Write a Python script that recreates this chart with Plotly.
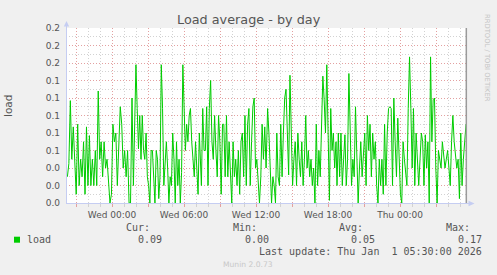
import plotly.graph_objects as go
import pandas as pd

seg_a_start, seg_a_end = "2025-12-30 20:17", "2025-12-31 01:40"
seg_a = [0.03, 0.045, 0.117, 0.05, 0.087, 0.04, 0.01, 0.09, 0.02, 0.05, 0.03, 0.07, 0.01,
         0.087, 0.02, 0.077, 0.02, 0.05, 0.02, 0.06, 0.02, 0.128, 0.05, 0.07, 0.03, 0.07,
         0.04, 0.05, 0.02, 0.0, 0.01, 0.09, 0.07, 0.08, 0.02, 0.078, 0.11, 0.09, 0.04, 0.06,
         0.03, 0.06, 0.0, 0.0, 0.12]
seg_b_start, seg_b_end = "2025-12-31 01:47", "2025-12-31 07:23"
seg_b = [0.02, 0.09, 0.158, 0.108, 0.062, 0.1, 0.05, 0.1, 0.06, 0.05, 0.08, 0.03, 0.02, 0.0,
         0.06, 0.06, 0.02, 0.0, 0.06, 0.05, 0.005, 0.03, 0.158, 0.108, 0.02, 0.05, 0.07, 0.04,
         0.0, 0.03, 0.02, 0.08, 0.05, 0.0, 0.07, 0.02, 0.05, 0.0, 0.035, 0.158, 0.108, 0.06,
         0.09, 0.07, 0.1, 0.108, 0.07, 0.05, 0.03, 0.07, 0.04, 0.01, 0.08, 0.03]
seg_c_start, seg_c_end = "2025-12-31 07:27", "2025-12-31 12:57"
seg_c = [0.02, 0.108, 0.06, 0.06, 0.11, 0.02, 0.108, 0.14, 0.07, 0.05, 0.1, 0.06, 0.03, 0.1,
         0.07, 0.01, 0.09, 0.09, 0.03, 0.1, 0.03, 0.07, 0.035, 0.0, 0.07, 0.03, 0.05, 0.02,
         0.06, 0.01, 0.07, 0.08, 0.03, 0.1, 0.02, 0.09, 0.108, 0.02, 0.07, 0.11, 0.12, 0.04,
         0.05, 0.03, 0.0, 0.03, 0.09, 0.05, 0.087, 0.04, 0.108]
seg_d_start, seg_d_end = "2025-12-31 12:58", "2025-12-31 18:40"
seg_d = [0.108, 0.08, 0.03, 0.0, 0.03, 0.02, 0.0, 0.08, 0.03, 0.02, 0.09, 0.03, 0.08, 0.12,
         0.13, 0.09, 0.032, 0.146, 0.07, 0.02, 0.05, 0.07, 0.02, 0.08, 0.05, 0.03, 0.07, 0.02,
         0.05, 0.1, 0.04, 0.06, 0.03, 0.05, 0.02, 0.04, 0.0, 0.09, 0.02, 0.06, 0.03, 0.1,
         0.145, 0.118, 0.08, 0.158, 0.09, 0.003, 0.108, 0.06, 0.08, 0.04, 0.07]
seg_e_start, seg_e_end = "2025-12-31 18:45", "2026-01-01 00:22"
seg_e = [0.02, 0.08, 0.03, 0.08, 0.02, 0.05, 0.078, 0.02, 0.05, 0.148, 0.09, 0.02, 0.05, 0.03,
         0.11, 0.04, 0.0, 0.04, 0.07, 0.03, 0.05, 0.08, 0.02, 0.1, 0.06, 0.09, 0.03, 0.08,
         0.05, 0.07, 0.02, 0.0, 0.05, 0.02, 0.05, 0.01, 0.09, 0.02, 0.08, 0.108, 0.11, 0.108,
         0.02, 0.12, 0.07, 0.03, 0.097, 0.04, 0.01, 0.0, 0.07, 0.05]
seg_f_start, seg_f_end = "2026-01-01 00:28", "2026-01-01 05:30"
seg_f = [0.03, 0.02, 0.108, 0.167, 0.108, 0.04, 0.108, 0.02, 0.08, 0.05, 0.02, 0.05, 0.08,
         0.07, 0.02, 0.078, 0.04, 0.07, 0.0, 0.167, 0.07, 0.118, 0.12, 0.04, 0.0, 0.06, 0.05,
         0.04, 0.07, 0.05, 0.04, 0.05, 0.06, 0.04, 0.02, 0.07, 0.1, 0.07, 0.05, 0.04, 0.05,
         0.005, 0.08, 0.02, 0.05, 0.07, 0.09]

x_range = ["2025-12-30 20:10", "2026-01-01 05:30"]
x_tick_vals = ["2025-12-30 21:00", "2025-12-31 00:00", "2025-12-31 03:00", "2025-12-31 06:00",
               "2025-12-31 09:00", "2025-12-31 12:00", "2025-12-31 15:00", "2025-12-31 18:00",
               "2025-12-31 21:00", "2026-01-01 00:00", "2026-01-01 03:00"]
x_tick_text = ["", "Wed 00:00", "", "Wed 06:00", "", "Wed 12:00", "", "Wed 18:00", "",
               "Thu 00:00", ""]
y_tick_vals = [0.0, 0.02, 0.04, 0.06, 0.08, 0.10, 0.12, 0.14, 0.16, 0.18, 0.20]
y_tick_text = ["0.0", "0.0", "0.0", "0.1", "0.1", "0.1", "0.1", "0.1", "0.2", "0.2", "0.2"]

stat_names = ["Cur:", "Min:", "Avg:", "Max:"]
stat_values = ["0.09", "0.00", "0.05", "0.17"]
last_update = "Last update: Thu Jan  1 05:30:00 2026"

# ---- build series ----
times, vals = [], []
for s, e, v in [(seg_a_start, seg_a_end, seg_a), (seg_b_start, seg_b_end, seg_b),
                (seg_c_start, seg_c_end, seg_c), (seg_d_start, seg_d_end, seg_d),
                (seg_e_start, seg_e_end, seg_e), (seg_f_start, seg_f_end, seg_f)]:
    times.extend(pd.date_range(s, e, periods=len(v)))
    vals.extend(v)

W, H = 497, 275
L, R, T, B = 66, 466, 28, 203  # plot area in pixels


def px(x):
    return (x - L) / (R - L)


def py(y):
    return (B - y) / (B - T)


GREEN = "#00CC00"
TXT = "#555555"
MGRID = "#e3a0a0"
GRID = "#d2d2d2"
AXIS = "#c5cdf2"

fig = go.Figure()
fig.add_trace(go.Scatter(x=times, y=vals, mode="lines",
                         line=dict(color=GREEN, width=1), showlegend=False,
                         hoverinfo="skip"))

fig.update_layout(
    width=W, height=H,
    margin=dict(l=L, r=W - R, t=T, b=H - B, pad=0),
    paper_bgcolor="#F0F0F0", plot_bgcolor="#FFFFFF",
    showlegend=False,
    font=dict(family="DejaVu Sans", size=9, color=TXT),
)
fig.update_xaxes(
    type="date", range=x_range, tickvals=x_tick_vals, ticktext=x_tick_text,
    showgrid=True, gridcolor=MGRID, griddash="1px,2px", gridwidth=1,
    ticks="outside", ticklen=3, tickcolor=MGRID, tickwidth=1,
    tickfont=dict(family="DejaVu Sans", size=9, color=TXT),
    showline=False, zeroline=False, fixedrange=True,
    minor=dict(dtick=3600000, tick0="2025-12-30 21:00", showgrid=True, gridcolor=GRID,
               griddash="1px,2px", ticks="outside", ticklen=3, tickcolor=GRID),
)
fig.update_yaxes(
    range=[0, 0.2], tickvals=y_tick_vals, ticktext=y_tick_text,
    showgrid=True, gridcolor=MGRID, griddash="1px,2px", gridwidth=1,
    ticks="", ticklabelstandoff=5,
    tickfont=dict(family="DejaVu Sans", size=9, color=TXT),
    showline=False, zeroline=False, fixedrange=True,
    minor=dict(dtick=0.01, tick0=0, showgrid=True, gridcolor=GRID, griddash="1px,2px"),
)

shapes = [
    # right frame
    dict(type="line", xref="paper", yref="paper", x0=px(466.3), x1=px(466.3), y0=py(28),
         y1=py(203), line=dict(color="#9a9a9a", width=1.5)),
    # left axis + arrow
    dict(type="line", xref="paper", yref="paper", x0=px(66.5), x1=px(66.5), y0=py(203.5),
         y1=py(25), line=dict(color=AXIS, width=1)),
    dict(type="path", xref="paper", yref="paper",
         path=f"M {px(66.5)},{py(21)} L {px(63.8)},{py(26.5)} L {px(69.2)},{py(26.5)} Z",
         fillcolor=AXIS, line=dict(width=0)),
    # bottom axis + arrow
    dict(type="line", xref="paper", yref="paper", x0=px(66), x1=px(470), y0=py(203.5),
         y1=py(203.5), line=dict(color=AXIS, width=1)),
    dict(type="path", xref="paper", yref="paper",
         path=f"M {px(474.5)},{py(203.5)} L {px(468.5)},{py(200.8)} L {px(468.5)},{py(206.2)} Z",
         fillcolor=AXIS, line=dict(width=0)),
    # legend square
    dict(type="rect", xref="paper", yref="paper", x0=px(14), x1=px(20), y0=py(236.7),
         y1=py(242.7), fillcolor=GREEN, line=dict(width=0)),
]
fig.update_layout(shapes=shapes)

MONO = "DejaVu Sans Mono"
ann = []


def add(text, x, y, xanchor="left", size=10, family=MONO, color=TXT, angle=0):
    ann.append(dict(text=text, x=px(x), y=py(y), xref="paper", yref="paper",
                    xanchor=xanchor, yanchor="middle", showarrow=False, borderpad=0,
                    textangle=angle, font=dict(family=family, size=size, color=color)))


add("Load average - by day", 248.5, 20, "center", 12.8, "DejaVu Sans")
add("load", 8, 106, "center", 10.5, "DejaVu Sans", angle=-90)
add("RRDTOOL / TOBI OETIKER", 487, 58, "center", 6.8, "DejaVu Sans", "#c4c4c4", angle=90)
add("load", 26, 239.5)
name_right = [150.5, 257.5, 363.5, 470.5]
for nm, val, xr in zip(stat_names, stat_values, name_right):
    add(nm, xr, 227.5, "right")
    add(val, xr + 12.5, 239.5, "right")
add(last_update, 483, 251.5, "right")
add("Munin 2.0.73", 248, 264, "center", 7.6, "DejaVu Sans", "#c8c8c8")
fig.update_layout(annotations=ann)

fig.write_html("out.html")
